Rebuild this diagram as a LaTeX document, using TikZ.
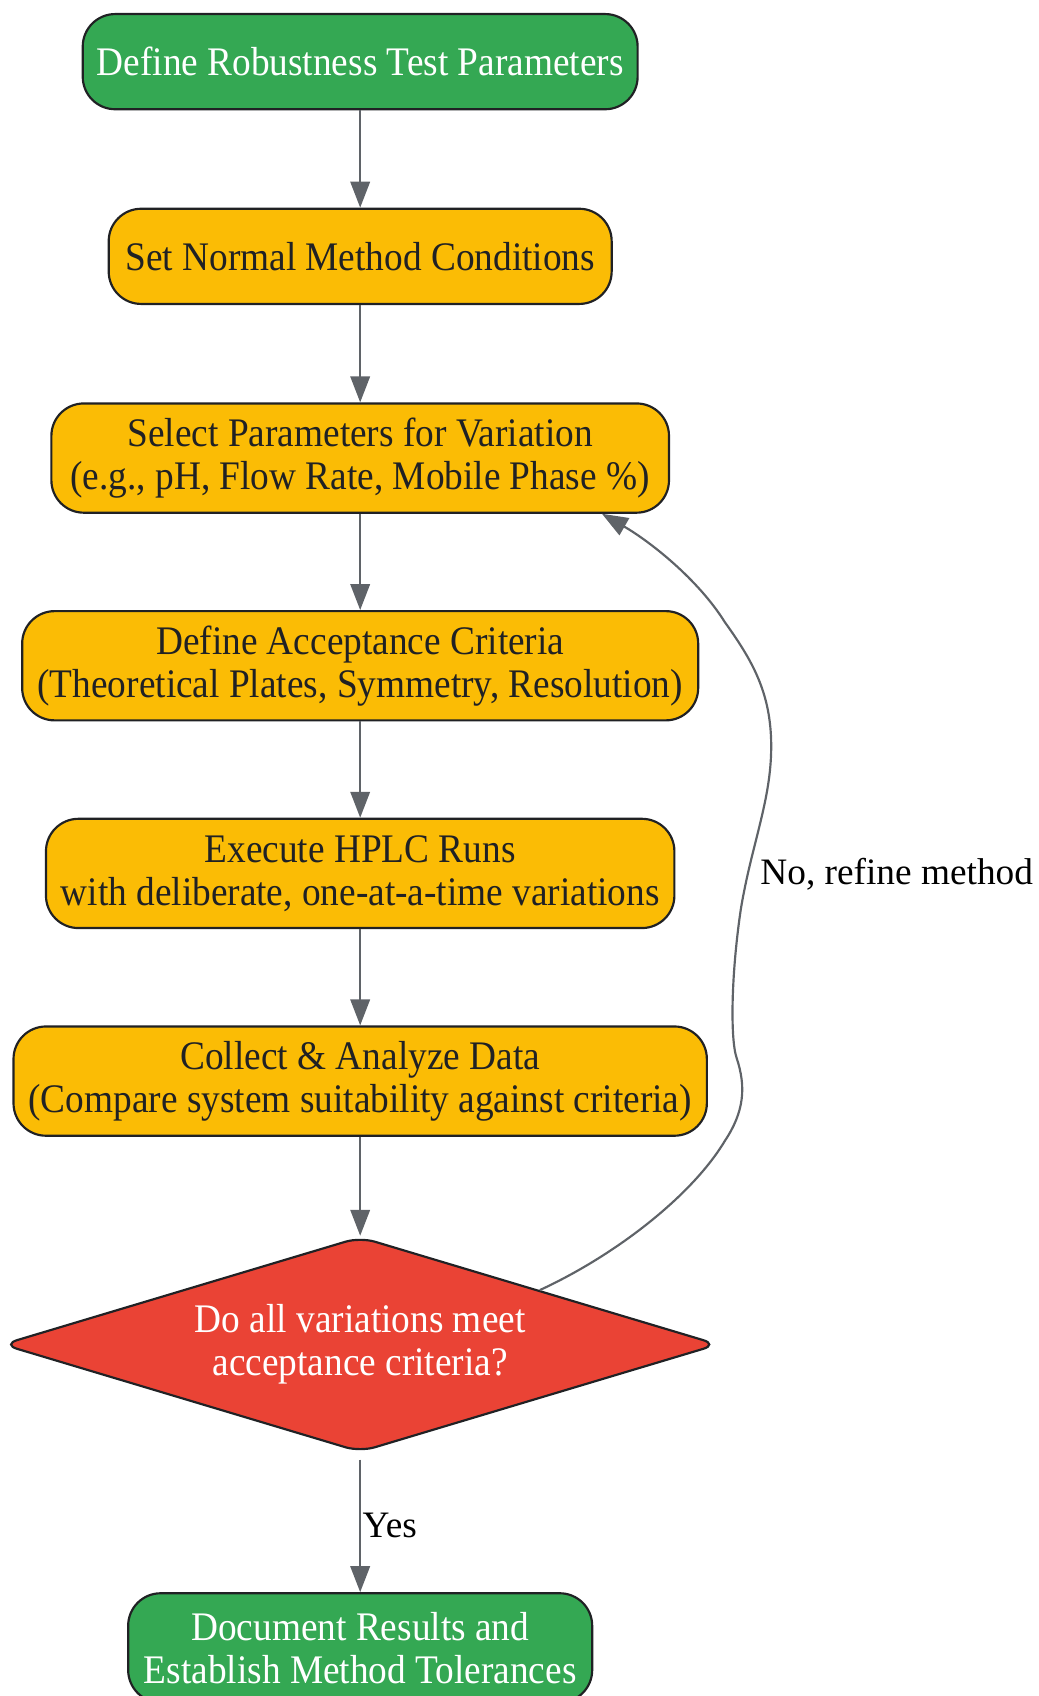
\documentclass[tikz,border=0pt]{standalone}
\usepackage{fontspec}
\setmainfont{Liberation Serif}
\newfontfamily\boxfont[FakeStretch=0.92]{Liberation Serif}
\usetikzlibrary{shapes.geometric,arrows.meta}
\definecolor{stepgreen}{HTML}{34A853}
\definecolor{stepyellow}{HTML}{FBBC05}
\definecolor{stepred}{HTML}{EA4335}
\definecolor{rimdark}{HTML}{202124}
\definecolor{flowgray}{HTML}{5F6368}
\tikzset{
  box/.style={draw=rimdark, line width=2pt, rounded corners=30pt, align=center,
    inner sep=0pt, font=\boxfont\fontsize{37.5}{40}\selectfont},
  termbox/.style={box, fill=stepgreen, text=white},
  procbox/.style={box, fill=stepyellow, text=rimdark},
  decbox/.style={diamond, aspect=3.3, draw=rimdark, line width=2pt, fill=stepred,
    text=white, rounded corners=14pt, align=center, inner sep=0pt,
    minimum width=662pt, minimum height=199pt, font=\boxfont\fontsize{37.5}{40}\selectfont},
  flow/.style={draw=flowgray, line width=2pt, -{Triangle[length=24pt,width=18pt]}},
  edgelabel/.style={inner sep=0pt, text=black, font=\fontsize{34.5}{40}\selectfont}
}
\begin{document}
\begin{tikzpicture}[x=1pt, y=-1pt]
\useasboundingbox (0,0) rectangle (960,1568);
% steps
\node[termbox, minimum width=513pt, minimum height=88pt] (define) at (333,57) {Define Robustness Test Parameters};
\node[procbox, minimum width=465pt, minimum height=88pt] (normal) at (333,237) {Set Normal Method Conditions};
\node[procbox, minimum width=571pt, minimum height=101pt] (select) at (333,423.5) {Select Parameters for Variation\\(e.g., pH, Flow Rate, Mobile Phase \%)};
\node[procbox, minimum width=625pt, minimum height=101pt] (criteria) at (333,615.5) {Define Acceptance Criteria\\(Theoretical Plates, Symmetry, Resolution)};
\node[procbox, minimum width=581pt, minimum height=101pt] (execute) at (333,807.5) {Execute HPLC Runs\\with deliberate, one-at-a-time variations};
\node[procbox, minimum width=641pt, minimum height=101pt] (collect) at (333,999.5) {Collect \& Analyze Data\\(Compare system suitability against criteria)};
\node[decbox] (meet) at (333,1243) {Do all variations meet\\acceptance criteria?};
\node[termbox, minimum width=429pt, minimum height=101pt] (document) at (333,1523.5) {Document Results and\\Establish Method Tolerances};
% connectors
\draw[flow] (define) -- (normal);
\draw[flow] (normal) -- (select);
\draw[flow] (select) -- (criteria);
\draw[flow] (criteria) -- (execute);
\draw[flow] (execute) -- (collect);
\draw[flow] (collect) -- (meet);
\draw[flow, shorten <=6pt] (meet) -- (document);
\node[edgelabel, anchor=west] (yes) at (335,1410) {Yes};
\draw[flow] (meet.north east)
  .. controls (570,1160) and (640,1105) .. (670,1055)
  .. controls (688,1028) and (690,1005) .. (681,978)
  .. controls (675,960) and (676,900) .. (685,840)
  .. controls (695,780) and (713,740) .. (713,690)
  .. controls (713,640) and (695,610) .. (670,575)
  .. controls (645,535) and (600,500) .. ([xshift=-63pt]select.south east);
\node[edgelabel] (refine) at (829,808) {No, refine method};
\end{tikzpicture}
\end{document}
